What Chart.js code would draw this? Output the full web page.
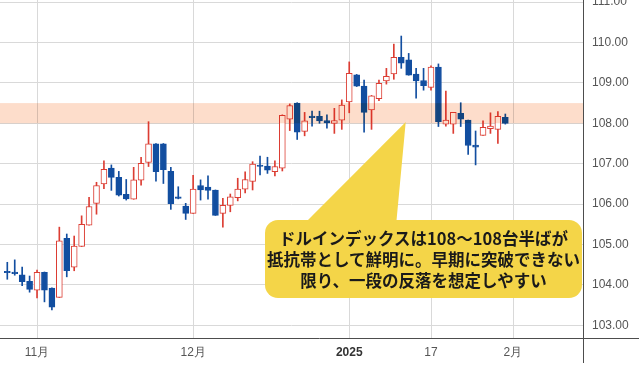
<!DOCTYPE html>
<html><head><meta charset="utf-8">
<script src="https://cdn.jsdelivr.net/npm/chart.js@4.4.1/dist/chart.umd.min.js"></script>
<style>
html,body{margin:0;padding:0;background:#fff;}
#wrap{position:relative;width:639px;height:368px;overflow:hidden;background:#fff;}
#c{position:absolute;left:0;top:0;}
#note{position:absolute;left:265px;top:220px;width:317px;height:78px;border-radius:13px;background:#f4d548;display:flex;align-items:center;justify-content:center;text-align:center;font-family:"Noto Sans CJK JP","Noto Sans CJK SC",sans-serif;font-weight:700;font-size:16.5px;line-height:21px;color:#1a1a1a;}
</style></head>
<body><div id="wrap"><canvas id="c" width="639" height="368"></canvas><div id="note"></div></div>
<script>
// ---- data (US Dollar Index, daily candles) ----
const dates = ["10/28","10/29","10/30","10/31","11/1","11/4","11/5","11/6","11/7","11/8",
  "11/11","11/12","11/13","11/14","11/15","11/18","11/19","11/20","11/21","11/22",
  "11/25","11/26","11/27","11/28","11/29","12/2","12/3","12/4","12/5","12/6",
  "12/9","12/10","12/11","12/12","12/13","12/16","12/17","12/18","12/19","12/20",
  "12/23","12/24","12/26","12/27","12/30","12/31","1/2","1/3","1/6","1/7",
  "1/8","1/9","1/10","1/13","1/14","1/15","1/16","1/17","1/20","1/21",
  "1/22","1/23","1/24","1/27","1/28","1/29","1/30","1/31"];
const openP  = [104.31,104.31,104.25,104.09,103.87,104.31,103.92,103.69,105.15,104.44,
  104.95,105.48,106.02,106.50,106.89,106.66,106.24,106.12,106.59,107.03,
  107.49,107.49,106.81,106.15,105.95,105.77,106.46,106.42,106.35,105.77,
  105.97,106.16,106.37,106.56,106.96,106.94,106.80,106.89,108.10,108.50,
  107.80,108.16,108.17,108.07,108.00,108.08,108.53,109.20,108.92,108.33,
  108.61,109.05,109.22,109.63,109.57,109.22,109.06,108.89,109.39,107.98,
  107.98,108.25,108.08,107.46,107.70,107.87,107.85,108.15];
const highP  = [104.56,104.62,104.44,104.22,104.37,104.32,103.93,105.43,105.26,105.21,
  105.71,106.17,106.54,107.07,106.97,106.81,106.61,106.91,107.16,108.04,
  107.50,107.50,106.91,106.43,106.02,106.71,106.60,106.70,106.35,106.14,
  106.25,106.64,106.80,107.05,107.19,107.16,107.07,108.21,108.48,108.51,
  108.27,108.30,108.30,108.21,108.37,108.58,109.52,109.21,109.07,108.69,
  109.07,109.36,109.96,110.16,109.73,109.36,109.36,109.42,109.47,108.80,
  108.27,108.51,108.08,107.81,108.06,108.26,108.29,108.23];
const lowP   = [104.14,104.24,103.98,103.82,103.68,103.58,103.38,103.69,104.20,104.35,
  104.95,105.48,105.75,106.38,106.34,106.20,106.10,106.12,106.47,106.93,
  106.57,106.51,105.87,106.13,105.62,105.77,106.10,106.12,105.72,105.43,
  105.81,106.08,106.28,106.35,106.72,106.76,106.70,106.82,107.82,107.60,
  107.69,107.93,108.00,107.88,107.75,107.85,108.26,108.91,107.78,107.85,
  108.56,108.97,109.09,109.36,109.19,108.62,108.82,108.82,107.92,107.93,
  107.75,107.92,107.23,106.97,107.70,107.75,107.50,107.98];
const closeP = [104.30,104.28,104.08,103.89,104.31,103.87,103.45,105.09,104.35,104.96,
  105.50,105.94,106.46,106.86,106.66,106.22,106.13,106.60,107.01,107.49,
  106.80,106.85,106.01,106.14,105.77,106.37,106.35,106.34,105.72,105.97,
  106.18,106.37,106.61,106.99,106.93,106.84,106.93,108.20,108.44,107.78,
  108.06,108.14,108.06,108.01,108.07,108.45,109.24,108.92,108.27,108.68,
  108.99,109.16,109.63,109.49,109.19,109.05,108.93,109.39,108.04,108.08,
  108.27,108.10,107.45,107.41,107.90,107.93,108.17,108.00];
const yTicks = [103,104,105,106,107,108,109,110,111];
const xTickIndex = [4,25,46,57,68];
const xTickLabels = ["11月","12月","2025","17","2月"];
const resistanceBand = [108.0, 108.5];
const noteLines = ["ドルインデックスは108～108台半ばが","抵抗帯として鮮明に。早期に突破できない","限り、一段の反落を想定しやすい"];
const noteTip = [53.6, 108.03];

// ---- styles ----
const UP = '#dc3d33', DOWN = '#124ea0', GRID = '#d9d9d9';
const isUp = i => closeP[i] >= openP[i];
document.getElementById('note').innerHTML = noteLines.join('<br>');

const wickData = dates.map((d,i)=>({x:i, y:[lowP[i], highP[i]]}));
const bodyData = dates.map((d,i)=>({x:i, y:[openP[i], closeP[i]]}));

const gridPlugin = {
  id:'vgrid',
  beforeDatasetsDraw(chart){
    const {ctx, chartArea:a, scales:{x}} = chart;
    ctx.save();
    ctx.strokeStyle = GRID; ctx.lineWidth = 1;
    ctx.beginPath();
    xTickIndex.forEach(v => {
      const px = Math.round(x.getPixelForValue(v)) + 0.5;
      ctx.moveTo(px, a.top); ctx.lineTo(px, a.bottom);
    });
    ctx.stroke();
    ctx.restore();
  }
};
const bandPlugin = {
  id:'band',
  afterDatasetsDraw(chart){
    const {ctx, chartArea:a, scales:{y}} = chart;
    const y1 = y.getPixelForValue(resistanceBand[1]), y0 = y.getPixelForValue(resistanceBand[0]);
    ctx.save();
    ctx.globalCompositeOperation = 'multiply';
    ctx.fillStyle = 'rgb(253,221,203)';
    ctx.fillRect(a.left, y1, a.right - a.left, y0 - y1);
    ctx.restore();
  }
};
const axisPlugin = {
  id:'axes',
  afterDraw(chart){
    const {ctx, chartArea:a, width, height, scales:{x,y}} = chart;
    ctx.save();
    const tx = x.getPixelForValue(noteTip[0]), ty = y.getPixelForValue(noteTip[1]);
    const note = document.getElementById('note');
    const bl = note.offsetLeft, bt = note.offsetTop;
    ctx.fillStyle = '#f4d548';
    ctx.beginPath();
    ctx.moveTo(tx, ty);
    ctx.lineTo(bl + 131, bt + 6);
    ctx.lineTo(bl + 37, bt + 6);
    ctx.closePath();
    ctx.fill();
    ctx.strokeStyle = '#4d4d4d';
    ctx.lineWidth = 1;
    ctx.beginPath();
    ctx.moveTo(0, Math.round(a.bottom) + 0.5);
    ctx.lineTo(width, Math.round(a.bottom) + 0.5);
    ctx.moveTo(Math.round(a.right) + 0.5, 0);
    ctx.lineTo(Math.round(a.right) + 0.5, height - 5);
    ctx.stroke();
    ctx.restore();
  }
};

new Chart(document.getElementById('c'), {
  type:'bar',
  data:{
    datasets:[
      {
        label:'body', data: bodyData, order:1, grouped:false,
        barThickness:6, minBarLength:1.5, borderWidth:1, borderSkipped:false,
        backgroundColor: dates.map((d,i)=> isUp(i) ? '#ffffff' : DOWN),
        borderColor: dates.map((d,i)=> isUp(i) ? UP : DOWN)
      },
      {
        label:'wick', data: wickData, order:2, grouped:false,
        barThickness:1, borderWidth:0,
        backgroundColor: dates.map((d,i)=> isUp(i) ? UP : DOWN)
      }
    ]
  },
  options:{
    responsive:false, animation:false, devicePixelRatio:1,
    layout:{padding:0},
    plugins:{legend:{display:false}, tooltip:{enabled:false}},
    scales:{
      x:{
        type:'linear', min:-0.982, max:77.45, offset:false,
        afterBuildTicks: s => { s.ticks = xTickIndex.map(v=>({value:v})); },
        afterFit: s => { s.height = 30; s.paddingLeft = 0; s.paddingRight = 0; },
        grid:{display:false, drawTicks:false},
        border:{display:false},
        ticks:{
          padding:7, autoSkip:false, maxRotation:0,
          callback: v => xTickLabels[xTickIndex.indexOf(v)],
          font: c => ({family:'Liberation Sans', size:12, weight: (c.tick && c.tick.value===46) ? 'bold' : 'normal'}),
          color: c => (c.tick && c.tick.value===46) ? '#333' : '#555'
        }
      },
      y:{
        position:'right', min:102.686, max:111.052,
        afterBuildTicks: s => { s.ticks = yTicks.map(v=>({value:v})); },
        afterFit: s => { s.width = 56; s.paddingTop = 0; s.paddingBottom = 0; },
        grid:{color:GRID, drawTicks:false},
        border:{display:false},
        ticks:{
          padding:9,
          callback: v => Number(v).toFixed(2),
          font:{family:'Liberation Sans', size:12},
          color:'#555'
        }
      }
    }
  },
  plugins:[gridPlugin, bandPlugin, axisPlugin]
});
</script>
</body></html>
